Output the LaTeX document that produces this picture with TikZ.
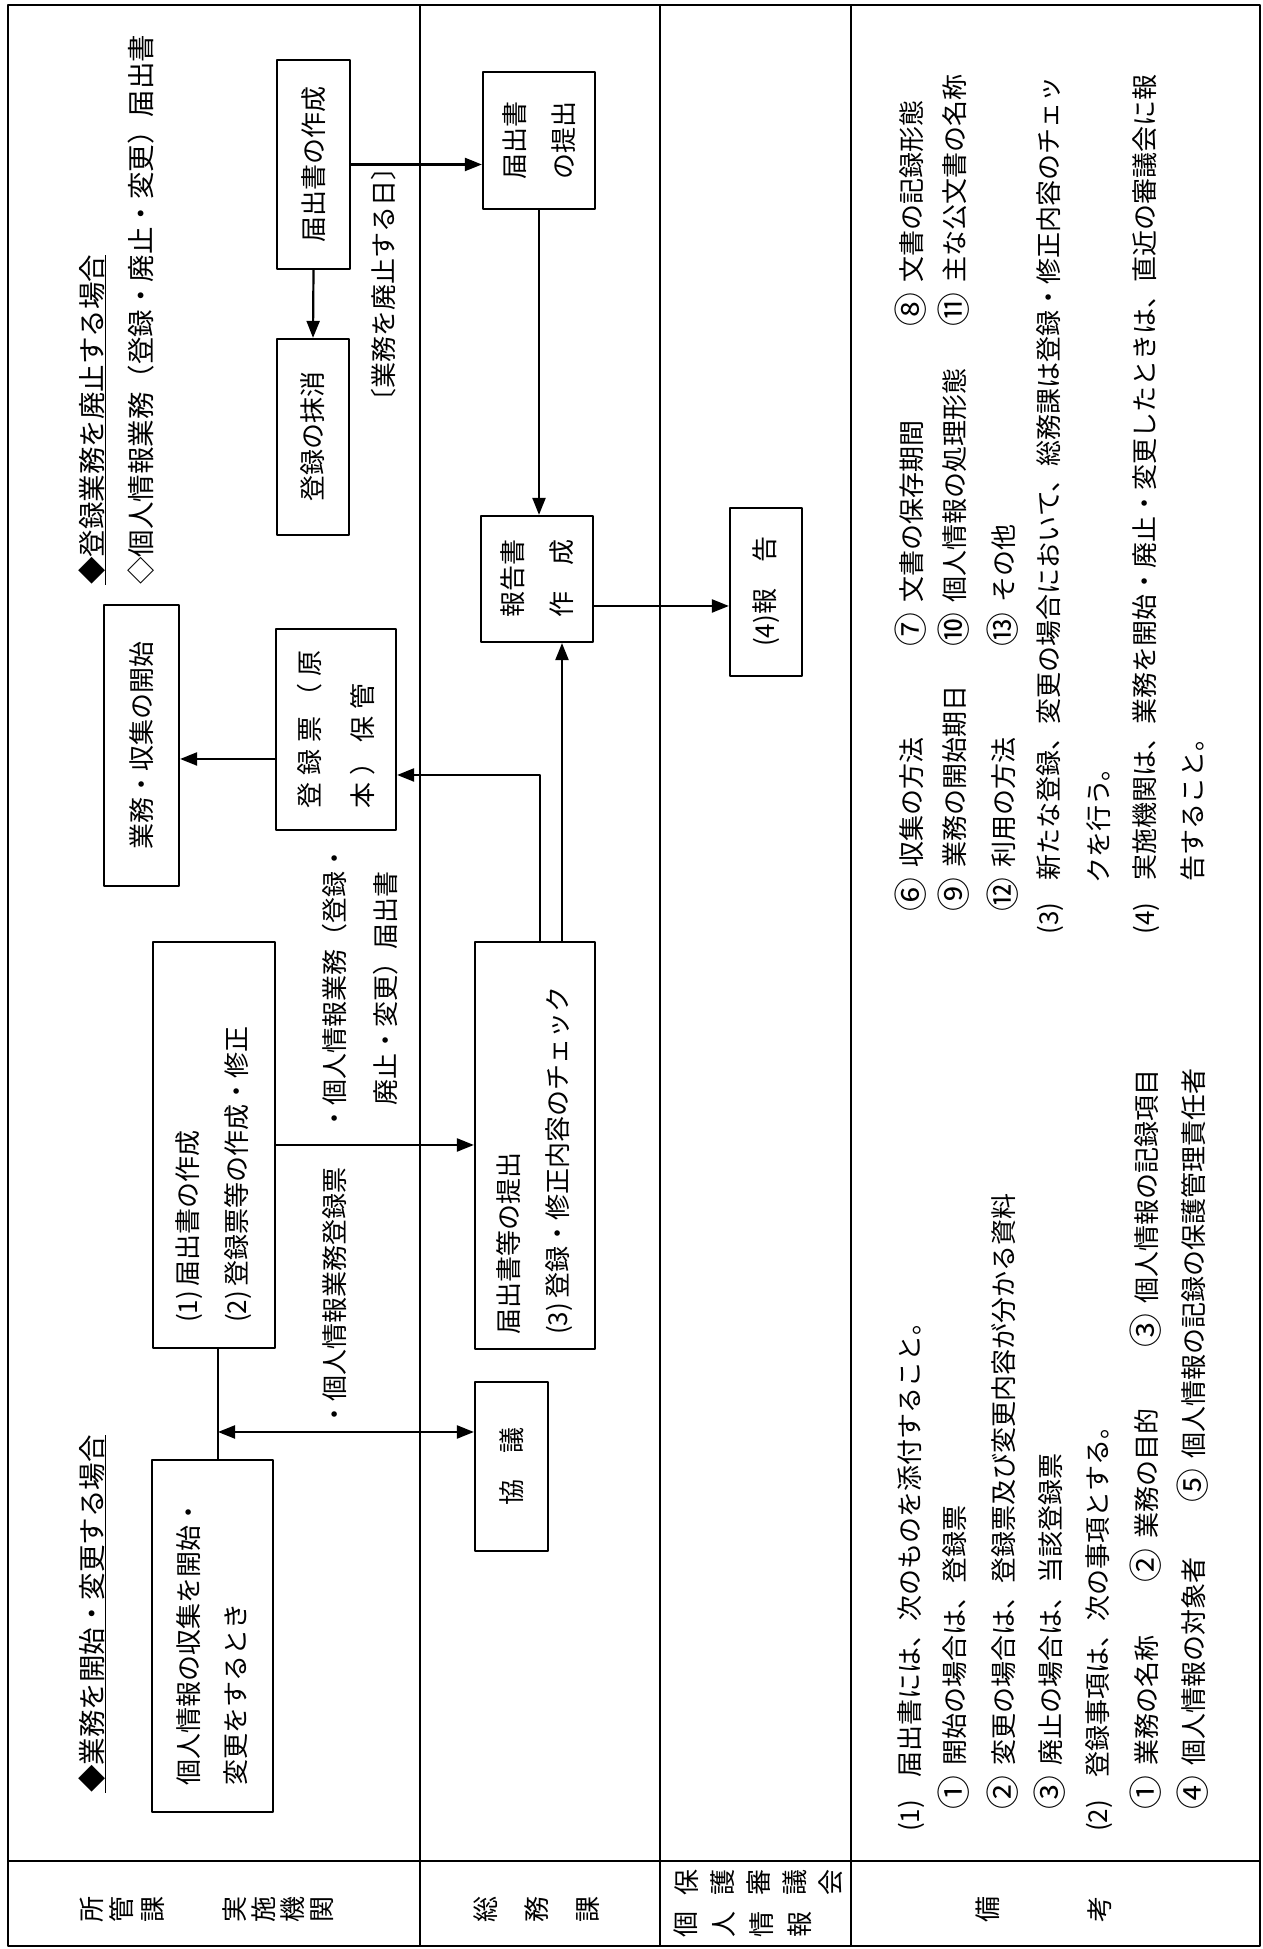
\documentclass[tikz,border=0pt]{standalone}
\usepackage{fontspec}
\usepackage{graphicx}
\setmainfont{Noto Sans CJK JP}
\usetikzlibrary{arrows.meta}

\newcommand{\pnum}[1]{\makebox[2.1em][l]{#1}}
\newcommand{\cnum}[1]{\makebox[1.6em][l]{\hspace{-.12em}\raisebox{-.1em}{\scalebox{1.3}{#1}}}}
\newcommand{\ls}{\hspace{7pt}}

\tikzset{
  box/.style={draw,line width=2.2pt,inner sep=0pt,font=\fontsize{26}{47}\selectfont},
  head/.style={anchor=west,inner sep=0pt,font=\fontsize{27.5}{30}\selectfont},
  note/.style={anchor=west,inner sep=0pt,font=\fontsize{26}{30}\selectfont},
  rowname/.style={align=center,inner sep=0pt,font=\fontsize{26}{30}\selectfont},
  flow/.style={->,line width=2.2pt},
  rule/.style={line width=2.2pt}
}

\begin{document}
\begin{tikzpicture}[x=1pt,y=1pt,>={Triangle[length=17pt,width=13pt]},line join=round]
\useasboundingbox (0,0) rectangle (1262,1949);
% the sheet is printed sideways: draw it flat, then turn it
\begin{scope}[overlay,transform canvas={rotate=90},y=-1pt]
% table
\draw[rule] (3,8) rectangle (1944,1260);
\draw[rule] (88,8) -- (88,1260);
\draw[rule] (3,420) -- (1944,420) (3,660) -- (1944,660) (3,851) -- (1944,851);

% row names
\node[rowname,font=\fontsize{26}{30.5}\selectfont] (shokan) at (40,122) {所\\管\\課};
\node[rowname,font=\fontsize{26}{29}\selectfont] (jisshi) at (40,278.5) {実\\施\\機\\関};
\node[rowname,font=\fontsize{26}{51}\selectfont] (somu) at (40,537) {総\\務\\課};
\node[rowname,font=\fontsize{26}{38}\selectfont] (kojin) at (24,743) {個\\人\\情\\報};
\node[rowname,font=\fontsize{26}{36}\selectfont] (hogo) at (66,759) {保\\護\\審\\議\\会};
\node[rowname] (bi) at (40,988) {備};
\node[rowname] (ko) at (40,1100) {考};

% headings
\node[head] (headopen) at (156,92) {◆業務を開始・変更する場合};
\draw[line width=1.6pt] (headopen.south west) -- (headopen.south east);
\node[head] (headclose) at (1364,92) {◆登録業務を廃止する場合};
\draw[line width=1.6pt] (headclose.south west) -- (headclose.south east);
\node[head] (headform) at (1364,141) {◇個人情報業務（登録・廃止・変更）届出書};

% start or change
\node[box,text width=300pt,inner xsep=26pt,minimum height=121pt,align=left] (entry) at (313,212.5) {個人情報の収集を開始・\\変更をするとき};
\node[box,text width=356pt,inner xsep=25pt,minimum height=122pt,align=left,font=\fontsize{26}{49}\selectfont] (forms) at (804,214) {(1)\,届出書の作成\\(2)\,登録票等の作成・修正};
\node[box,minimum width=169pt,minimum height=73pt] (kyogi) at (482.5,511.5) {協　議};
\node[box,text width=379pt,inner xsep=14pt,minimum height=120pt,align=left,font=\fontsize{26}{49}\selectfont] (check) at (803.5,535) {届出書等の提出\\(3)\,登録・修正内容のチェック};
\node[box,text width=158pt,inner xsep=21.5pt,minimum height=120pt,align=left,font=\fontsize{26}{53}\selectfont] (original) at (1219.5,336) {登\ls 録\ls 票\ls （\ls 原\\本\ls ）\ls 保\ls 管};
\node[box,minimum width=281pt,minimum height=75pt] (startwork) at (1203.5,141.5) {業務・収集の開始};
\node[note] (docone) at (521,335) {・個人情報業務登録票};
\node[note,align=left,font=\fontsize{26}{51}\selectfont] (doctwo) at (817,360.5) {・個人情報業務（登録・\\\hspace{1em}廃止・変更）届出書};

% closing
\node[box,minimum width=209pt,minimum height=73pt] (notice) at (1784.5,313.5) {届出書の作成};
\node[box,minimum width=196pt,minimum height=72pt] (erase) at (1512,313) {登録の抹消};
\node[note] (closeday) at (1534,384) {〔業務を廃止する日〕};
\node[box,minimum width=137pt,minimum height=112pt,align=center,font=\fontsize{26}{49}\selectfont] (submit) at (1808.5,539) {届出書\\の提出};
\node[box,minimum width=126pt,minimum height=112pt,align=center,font=\fontsize{26}{49}\selectfont] (report) at (1370,537) {報告書\\作　成};
\node[box,minimum width=168pt,minimum height=72pt] (hokoku) at (1357,766) {(4)報　告};

% connectors
\coordinate (join) at (517,218);
\draw[line width=1.6pt] (entry.east |- join) -- (forms.west |- join);
\draw[flow,<->] (join) -- (join |- kyogi.north);
\draw[flow] (forms.south) -- (forms.south |- check.north);
\draw[flow] ([yshift=-5pt]check.east) -| ([xshift=-45.5pt]original.south);
\draw[flow] ([yshift=-27pt]check.east) -- ([yshift=-27pt]check.east -| report.west);
\draw[flow] ([xshift=-29.5pt]original.north) -- ([xshift=-29.5pt]original.north |- startwork.south);
\draw[flow] (notice.west) -- (erase.east);
\draw[flow] (notice.south) -- (notice.south |- submit.north);
\draw[flow] (submit.west) -- (submit.west -| report.east);
\draw[flow] ([xshift=-27pt]report.south) -- ([xshift=-27pt]report.south |- hokoku.north);

% remarks
\node[note] (a1) at (117,911) {\pnum{(1)}届出書には、次のものを添付すること。};
\node[note] (a2) at (1040,911) {\cnum{⑥}収集の方法};
\node[note] (a3) at (1305,911) {\cnum{⑦}文書の保存期間};
\node[note] (a4) at (1625,911) {\cnum{⑧}文書の記録形態};
\node[note] (b1) at (142,954) {\cnum{①}開始の場合は、登録票};
\node[note] (b2) at (1040,954) {\cnum{⑨}業務の開始期日};
\node[note] (b3) at (1305,954) {\cnum{⑩}個人情報の処理形態};
\node[note] (b4) at (1625,954) {\cnum{⑪}主な公文書の名称};
\node[note] (c1) at (142,1003) {\cnum{②}変更の場合は、登録票及び変更内容が分かる資料};
\node[note] (c2) at (1040,1003) {\cnum{⑫}利用の方法};
\node[note] (c3) at (1305,1003) {\cnum{⑬}その他};
\node[note] (d1) at (142,1050) {\cnum{③}廃止の場合は、当該登録票};
\node[note] (d2) at (1014,1050) {\pnum{(3)}新たな登録、変更の場合において、総務課は登録・修正内容のチェッ};
\node[note] (e1) at (117,1099) {\pnum{(2)}登録事項は、次の事項とする。};
\node[note] (e2) at (1065,1099) {クを行う。};
\node[note] (f1) at (142,1146) {\cnum{①}業務の名称};
\node[note] (f2) at (369,1146) {\cnum{②}業務の目的};
\node[note] (f3) at (604,1146) {\cnum{③}個人情報の記録項目};
\node[note] (f4) at (1014,1146) {\pnum{(4)}実施機関は、業務を開始・廃止・変更したときは、直近の審議会に報};
\node[note] (g1) at (142,1193) {\cnum{④}個人情報の対象者};
\node[note] (g2) at (449,1193) {\cnum{⑤}個人情報の記録の保護管理責任者};
\node[note] (g3) at (1067,1193) {告すること。};
\end{scope}
\end{tikzpicture}
\end{document}
